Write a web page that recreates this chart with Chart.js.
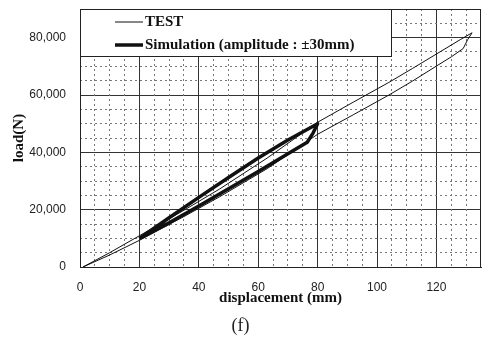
<!DOCTYPE html>
<html>
<head>
<meta charset="utf-8">
<script src="https://cdn.jsdelivr.net/npm/chart.js@4.4.7/dist/chart.umd.min.js"></script>
<style>
  body { margin: 0; background: #fff; }
</style>
</head>
<body>
<div style="width: 489px; height: 345px;">
  <canvas id="wykres" width="489" height="345"></canvas>
</div>
<script>
// TEST loop: up along the lower branch, back along the upper one
const testDisp = [1, 10, 20, 35, 47, 63, 80, 92, 104, 112, 120, 125, 129, 130.5, 132,
                  128, 120, 112, 104, 92, 80, 63, 47, 35, 20, 10, 1];
const testLoad = [0, 4200, 9300, 17600, 24500, 34300, 46300, 53100, 60000, 64900, 70100, 73300, 76200, 79300, 81700,
                  79300, 74300, 69300, 64400, 57500, 50500, 38000, 27200, 19800, 10900, 5000, 0];

// Simulation loop (amplitude +-30mm)
const simDisp = [20, 30, 40, 50, 60, 70, 80, 78.5, 76.5, 70, 60, 50, 40, 30, 20];
const simLoad = [10000, 17200, 24300, 31200, 38000, 44300, 50000, 46800, 43500, 39500, 33300, 27300, 21300, 15400, 10000];

const xTicks = [0, 20, 40, 60, 80, 100, 120];
const yTicks = [0, 20000, 40000, 60000, 80000];
const xMinor = [5, 10, 15, 25, 30, 35, 45, 50, 55, 65, 70, 75, 85, 90, 95, 105, 110, 115, 125, 130];
const yMinor = [5000, 10000, 15000, 25000, 30000, 35000, 45000, 50000, 55000, 65000, 70000, 75000, 85000];

function pts(xs, ys) {
    return xs.map((x, i) => ({ x: x, y: ys[i] }));
}

function noPad(s) {
    s.paddingTop = 0; s.paddingBottom = 0; s.paddingLeft = 0; s.paddingRight = 0;
}

const legendBox = {
    id: 'legendBox',
    afterDraw(chart) {
        const c = chart.ctx;
        const a = chart.chartArea;
        c.save();
        c.fillStyle = '#fff';
        c.strokeStyle = '#222';
        c.lineWidth = 1;
        c.fillRect(a.left, a.top, 312, 48);
        c.strokeRect(a.left + 0.5, a.top + 0.5, 311, 47);
        c.font = 'bold 15px "Liberation Serif"';
        c.textBaseline = 'middle';
        c.fillStyle = '#111';
        chart.data.datasets.forEach((ds, i) => {
            const y = a.top + 13 + i * 23;
            c.beginPath();
            c.strokeStyle = '#111';
            c.lineWidth = ds.borderWidth;
            c.moveTo(a.left + 35, y);
            c.lineTo(a.left + 63, y);
            c.stroke();
            c.fillText(ds.label, a.left + 65, y);
        });
        // plot frame
        c.strokeStyle = '#222';
        c.lineWidth = 1;
        c.strokeRect(a.left + 0.5, a.top + 0.5, a.right - a.left - 1, a.bottom - a.top);
        c.restore();
    }
};

const sans = { family: '"Liberation Sans", Arial', size: 12 };
const serifBold = { family: '"Liberation Serif", "Times New Roman"', size: 15, weight: 'bold' };

const dane = {
    datasets: [{
        label: 'TEST',
        data: pts(testDisp, testLoad),
        showLine: true,
        borderColor: '#111',
        borderWidth: 1,
        pointRadius: 0
    }, {
        label: 'Simulation (amplitude : \u00b130mm)',
        data: pts(simDisp, simLoad),
        showLine: true,
        borderColor: '#111',
        borderWidth: 3.5,
        borderJoinStyle: 'round',
        pointRadius: 0
    }]
};

const ctx = document.getElementById('wykres').getContext('2d');
const wykres = new Chart(ctx, {
    type: 'scatter',
    data: dane,
    plugins: [legendBox],
    options: {
        responsive: false,
        animation: false,
        layout: { padding: { top: 9, right: 8, left: 0, bottom: 0 } },
        plugins: {
            legend: { display: false },
            tooltip: { enabled: false },
            title: {
                display: true,
                text: '(f)',
                position: 'bottom',
                color: '#222',
                font: { family: '"Liberation Serif", "Times New Roman"', size: 18, weight: 'normal' },
                padding: { top: 0, bottom: 8 }
            }
        },
        scales: {
            x: {
                type: 'linear',
                min: 0, max: 135,
                afterBuildTicks: s => { s.ticks = xTicks.map(v => ({ value: v })); },
                afterFit: s => { s.height = 48.4; noPad(s); },
                ticks: { font: sans, color: '#222', padding: 13, autoSkip: false, maxRotation: 0 },
                grid: { color: '#333', lineWidth: 1, drawTicks: false },
                border: { display: true, color: '#222' },
                title: { display: true, text: 'displacement (mm)', color: '#111', font: serifBold, padding: { top: 0, bottom: 8.4 } }
            },
            y: {
                type: 'linear',
                min: 0, max: 90000,
                afterBuildTicks: s => { s.ticks = yTicks.map(v => ({ value: v })); },
                afterFit: s => { s.width = 80; noPad(s); },
                ticks: { font: sans, color: '#222', padding: 14, autoSkip: false,
                         callback: v => v.toLocaleString('en-US') },
                grid: { color: '#333', lineWidth: 1, drawTicks: false },
                border: { display: true, color: '#222' },
                title: { display: true, text: 'load(N)', color: '#111', font: serifBold, padding: { top: 10, bottom: 0 } }
            },
            x2: {
                type: 'linear',
                position: 'bottom',
                min: 0, max: 135,
                afterBuildTicks: s => { s.ticks = xMinor.map(v => ({ value: v })); },
                afterFit: s => { s.height = 0; noPad(s); },
                ticks: { display: false },
                grid: { color: '#777', lineWidth: 1, drawTicks: false },
                border: { display: false, dash: [2, 3] }
            },
            y2: {
                type: 'linear',
                position: 'left',
                min: 0, max: 90000,
                afterBuildTicks: s => { s.ticks = yMinor.map(v => ({ value: v })); },
                afterFit: s => { s.width = 0; noPad(s); },
                ticks: { display: false },
                grid: { color: '#777', lineWidth: 1, drawTicks: false },
                border: { display: false, dash: [2, 3] }
            }
        }
    }
});
</script>
</body>
</html>
